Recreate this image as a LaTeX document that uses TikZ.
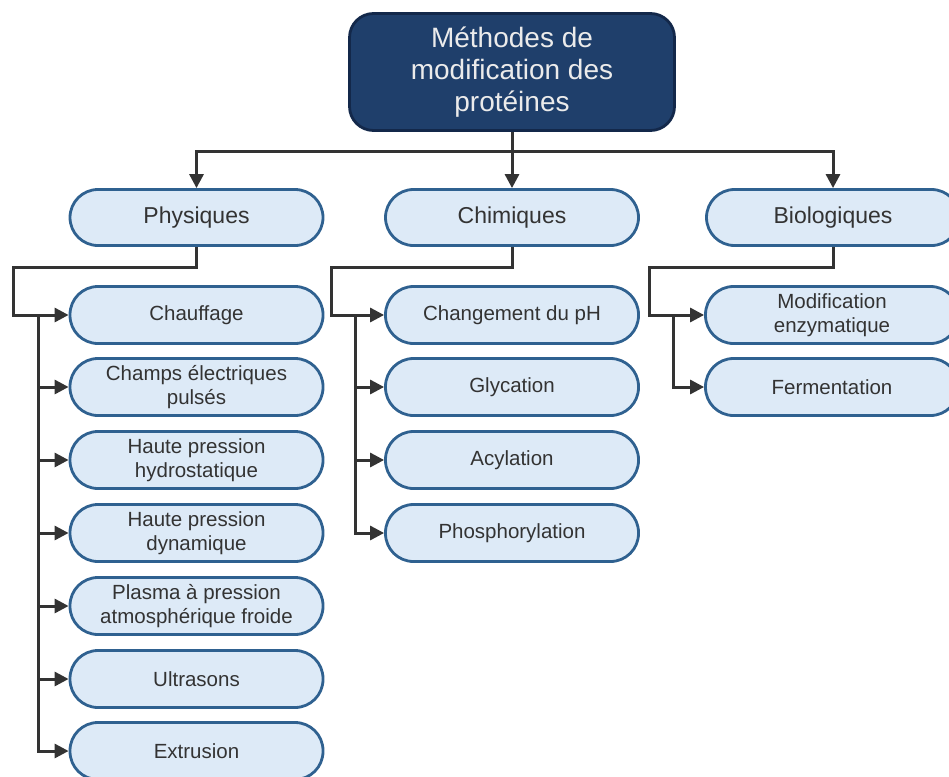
\documentclass[tikz,border=0pt]{standalone}
\usepackage{fontspec}
\setmainfont{Liberation Sans}
\usepackage{tikz}
\usetikzlibrary{arrows.meta, positioning}
\definecolor{navy}{HTML}{1F3F6B}
\definecolor{navyline}{HTML}{13284A}
\definecolor{paleblue}{HTML}{DDEAF7}
\definecolor{boxline}{HTML}{2F6190}
\definecolor{wire}{HTML}{333333}
\tikzset{
  rootbox/.style={draw=navyline, fill=navy, line width=2.8pt, rounded corners=24pt,
    minimum width=325pt, minimum height=117pt, align=center, text=white!92!black,
    font=\fontsize{28}{32}\selectfont},
  catbox/.style={draw=boxline, fill=paleblue, line width=2.8pt, rounded corners=28pt,
    minimum width=253pt, minimum height=56pt, align=center, text=wire,
    font=\fontsize{23}{26}\selectfont},
  itembox/.style={catbox, minimum height=57pt, font=\fontsize{20.5}{24}\selectfont},
  arr/.style={draw=wire, line width=3pt, -{Triangle[length=14pt,width=14pt]}},
  wireline/.style={draw=wire, line width=3pt}
}

\begin{document}
\begin{tikzpicture}[x=1pt, y=-1pt]
      \useasboundingbox (0,0) rectangle (949,776);
      \node[rootbox] (root) at (512,72) {Méthodes de\\modification des\\protéines};
      % categories
      \node[catbox] (phys) at (196.5,217.5) {Physiques};
      \node[catbox] (chim) at (512,217.5) {Chimiques};
      \node[catbox] (bio) at (833,217.5) {Biologiques};
      % physiques
      \node[itembox] (chauf) at (196.5,315) {Chauffage};
      \node[itembox] (champs) at (196.5,387) {Champs électriques\\pulsés};
      \node[itembox] (hydro) at (196.5,460) {Haute pression\\hydrostatique};
      \node[itembox] (dyn) at (196.5,533) {Haute pression\\dynamique};
      \node[itembox] (plasma) at (196.5,606) {Plasma à pression\\atmosphérique froide};
      \node[itembox] (ultra) at (196.5,679) {Ultrasons};
      \node[itembox] (extr) at (196.5,751) {Extrusion};
      % chimiques
      \node[itembox] (ph) at (512,315) {Changement du pH};
      \node[itembox] (glyc) at (512,387) {Glycation};
      \node[itembox] (acyl) at (512,460) {Acylation};
      \node[itembox] (phos) at (512,533) {Phosphorylation};
      % biologiques
      \node[itembox] (enz) at (832,315) {Modification\\enzymatique};
      \node[itembox] (ferm) at (832,387) {Fermentation};

      \coordinate (rootbus) at (512,151);
      \draw[wireline] (root.south) -- (rootbus);
      \draw[arr] (rootbus) -| (phys.north);
      \draw[arr] (rootbus) -| (bio.north);
      \draw[arr] (rootbus) -- (chim.north);

      \coordinate (physturn) at (13,267);
      \coordinate (physbus) at (38,315);
      \draw[arr] (phys.south) |- (physturn) |- (chauf.west);
      \foreach \n in {champs, hydro, dyn, plasma, ultra, extr}
        \draw[arr] (physbus) |- (\n.west);

      \coordinate (chimturn) at (331,267);
      \coordinate (chimbus) at (355,315);
      \draw[arr] (chim.south) |- (chimturn) |- (ph.west);
      \foreach \n in {glyc, acyl, phos}
        \draw[arr] (chimbus) |- (\n.west);

      \coordinate (bioturn) at (649,267);
      \coordinate (biobus) at (673,315);
      \draw[arr] (bio.south) |- (bioturn) |- (enz.west);
      \draw[arr] (biobus) |- (ferm.west);
\end{tikzpicture}
\end{document}
